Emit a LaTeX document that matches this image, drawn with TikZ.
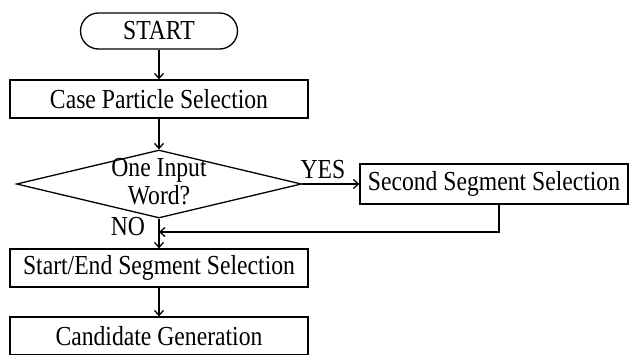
\documentclass[tikz,border=0pt]{standalone}
\usepackage{fontspec}
\setmainfont{Liberation Serif}[FakeStretch=0.86]
\usetikzlibrary{shapes.geometric,arrows.meta}
\tikzset{
  flowbox/.style={draw, line width=1.3pt, minimum height=38pt, inner sep=0pt},
  flowline/.style={draw, line width=1.3pt, -{Straight Barb[length=5pt,width=9pt]}},
}
\begin{document}
\begin{tikzpicture}[x=1pt,y=-1pt,font=\fontsize{27.5}{28}\selectfont]
\useasboundingbox (0,0) rectangle (629,354);
\node[flowbox, rounded corners=18pt, minimum width=157pt, minimum height=36pt](start) at (159,31) {START};
%
\node[flowbox, minimum width=298pt](cps) at (159,99) {Case Particle Selection};
\draw[flowline](start) -- (cps);
%
\node[draw, line width=1.3pt, diamond, inner sep=0pt, minimum width=285pt, minimum height=68pt](dec) at (159,184) {};
\node[align=center, inner sep=0pt](dectext) at (159,182) {One Input\\Word?};
\draw[flowline](cps) -- (dec);
%
\node[flowbox, minimum width=268pt, minimum height=40pt](sss) at (494,184) {Second Segment Selection};
\draw[flowline](dec.east) -- (sss.west);
\node(yes) at (323,170) {YES};
%
\node[flowbox, minimum width=298pt](sess) at (159,268) {Start/End Segment Selection};
\draw[flowline](dec.south) -- (sess.north);
\node(no) at (128,227) {NO};
%
\coordinate(fb) at (499,232);
\coordinate(join) at (159,232);
\draw[flowline](sss.south -| fb) -- (fb) -- (join);
%
\node[flowbox, minimum width=298pt](cg) at (159,336) {Candidate Generation};
\draw[flowline](sess) -- (cg);
\end{tikzpicture}
\end{document}
